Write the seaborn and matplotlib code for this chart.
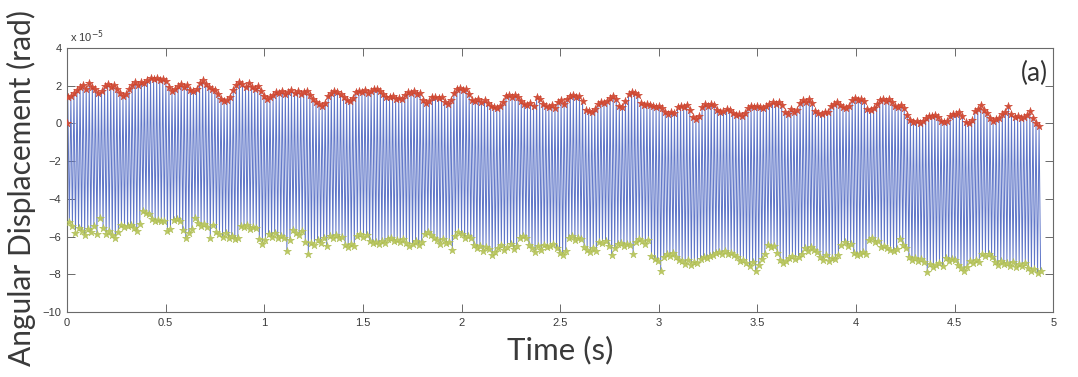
import numpy as np
import pandas as pd
import matplotlib
matplotlib.use("Agg")
import matplotlib.pyplot as plt
import seaborn as sns

# ---------------- data (units of 1e-5 rad) ----------------
duration = 4.94          # s, length of the recording
start_value = 0.0        # first sample at t = 0

peaks = [
    1.38, 1.45, 1.62, 1.75, 1.92, 2.05, 1.85, 2.12, 1.95, 1.80,
    1.62, 1.70, 1.98, 2.08, 1.92, 2.02, 1.85, 1.62, 1.48, 1.55,
    1.82, 2.05, 2.18, 2.02, 2.22, 2.12, 2.30, 2.40, 2.35, 2.42,
    2.32, 2.38, 2.25, 1.95, 1.72, 1.80, 1.98, 2.10, 1.92, 2.05,
    1.78, 1.72, 1.85, 2.15, 2.28, 2.10, 1.95, 1.82, 1.75, 1.55,
    1.28, 1.18, 1.22, 1.40, 1.75, 2.05, 2.20, 2.10, 1.95, 2.15,
    1.92, 1.85, 1.98, 1.70, 1.45, 1.32, 1.38, 1.52, 1.68, 1.60,
    1.72, 1.58, 1.65, 1.75, 1.62, 1.70, 1.55, 1.68, 1.74, 1.50,
    1.30, 1.15, 1.02, 0.92, 1.10, 1.45, 1.62, 1.72, 1.68, 1.58,
    1.40, 1.22, 1.18, 1.35, 1.65, 1.72, 1.68, 1.75, 1.62, 1.70,
    1.82, 1.85, 1.72, 1.55, 1.42, 1.38, 1.45, 1.30, 1.35, 1.28,
    1.52, 1.68, 1.62, 1.70, 1.55, 1.62, 1.25, 1.10, 1.18, 1.40,
    1.42, 1.35, 1.38, 1.15, 1.05, 1.22, 1.60, 1.82, 1.90, 1.75,
    1.85, 1.55, 1.25, 1.18, 1.30, 1.12, 1.22, 1.08, 0.95, 0.85,
    0.82, 0.92, 1.15, 1.45, 1.52, 1.40, 1.50, 1.42, 1.20, 1.02,
    0.98, 1.08, 0.95, 1.42, 1.30, 1.05, 0.92, 0.85, 0.98, 0.82,
    1.15, 1.22, 1.05, 1.30, 1.45, 1.52, 1.38, 1.48, 1.20, 0.70,
    0.65, 0.60, 0.75, 1.02, 1.15, 1.08, 1.20, 1.35, 1.45, 1.30,
    0.92, 0.88, 1.20, 1.55, 1.68, 1.60, 1.50, 1.10, 0.98, 1.05,
    1.00, 0.92, 0.85, 0.95, 0.80, 0.58, 0.52, 0.60, 0.55, 0.85,
    0.95, 0.88, 1.00, 0.70, 0.35, 0.22, 0.40, 0.85, 1.02, 0.95,
    1.05, 0.98, 0.70, 0.62, 0.68, 0.78, 0.72, 0.55, 0.45, 0.50,
    0.42, 0.55, 0.82, 0.90, 0.85, 0.95, 0.88, 0.80, 0.92, 1.05,
    1.12, 1.05, 1.15, 0.98, 0.62, 0.52, 0.75, 0.60, 0.70, 1.10,
    1.22, 1.15, 1.28, 1.10, 0.65, 0.55, 0.50, 0.62, 0.58, 0.95,
    1.05, 1.12, 1.00, 0.88, 0.82, 0.90, 1.22, 1.35, 1.25, 1.30,
    1.18, 0.78, 0.72, 0.80, 1.05, 1.25, 1.30, 1.20, 1.28, 1.15,
    0.95, 0.88, 1.00, 0.82, 0.45, 0.18, 0.05, 0.12, 0.02, 0.15,
    0.30, 0.42, 0.38, 0.45, 0.32, 0.12, 0.08, 0.15, 0.40, 0.52,
    0.48, 0.58, 0.42, 0.10, 0.02, 0.18, 0.65, 0.78, 0.98, 0.70,
    0.55, 0.28, 0.15, 0.22, 0.30, 0.52, 0.60, 0.92, 0.48, 0.35,
    0.42, 0.28, 0.35, 0.45, 0.65, 0.30, 0.02, -0.12,
]

troughs = [
    -5.25, -5.45, -5.80, -5.55, -5.70, -5.90, -5.60, -5.75, -5.45, -5.85,
    -5.00, -5.55, -5.85, -5.70, -5.90, -6.05, -5.75, -5.40, -5.50, -5.45,
    -5.40, -5.55, -5.72, -5.35, -4.62, -4.75, -4.80, -5.05, -5.15, -5.10,
    -5.20, -5.15, -5.70, -5.60, -5.10, -5.05, -5.15, -5.65, -6.10, -5.80,
    -5.60, -5.02, -5.30, -5.45, -5.35, -5.50, -6.05, -5.40, -5.75, -5.85,
    -6.00, -5.80, -6.10, -5.95, -6.15, -6.05, -5.45, -5.50, -5.40, -5.60,
    -5.50, -5.55, -6.15, -6.40, -6.20, -5.85, -6.00, -5.80, -6.05, -5.95,
    -6.10, -6.75, -6.20, -5.65, -5.80, -5.90, -5.70, -6.30, -6.90, -6.35,
    -6.45, -6.20, -6.35, -6.10, -6.50, -5.95, -6.05, -5.90, -6.10, -6.00,
    -6.45, -6.55, -6.40, -6.50, -5.95, -5.85, -6.00, -5.90, -6.25, -6.35,
    -6.30, -6.40, -6.25, -6.35, -6.15, -6.10, -6.25, -6.20, -6.30, -6.15,
    -6.35, -6.50, -6.40, -6.25, -6.45, -6.30, -5.85, -5.75, -5.90, -6.10,
    -6.20, -6.40, -6.15, -6.35, -6.30, -6.70, -5.95, -5.75, -5.85, -6.05,
    -5.95, -6.10, -6.45, -6.60, -6.50, -6.75, -6.55, -6.65, -7.00, -6.80,
    -6.60, -6.45, -6.70, -6.55, -6.40, -6.65, -6.50, -6.05, -5.95, -6.10,
    -6.45, -6.60, -6.80, -6.50, -6.70, -6.45, -6.55, -6.50, -6.40, -6.60,
    -6.85, -7.00, -6.75, -6.10, -5.95, -6.20, -6.05, -6.15, -6.55, -6.70,
    -6.80, -6.60, -6.75, -6.30, -6.35, -6.25, -6.50, -7.00, -6.60, -6.40,
    -6.35, -6.50, -6.40, -6.45, -6.95, -6.30, -6.15, -6.25, -6.40, -6.20,
    -7.05, -7.20, -7.30, -7.80, -7.10, -6.90, -7.05, -6.85, -7.10, -7.25,
    -7.30, -7.45, -7.25, -7.50, -7.35, -7.40, -7.20, -7.10, -7.15, -7.05,
    -7.00, -6.85, -6.80, -6.90, -6.75, -6.95, -6.85, -7.00, -7.10, -7.30,
    -7.25, -7.40, -7.55, -7.35, -7.85, -7.50, -7.20, -6.90, -6.45, -6.55,
    -6.50, -6.85, -7.25, -7.40, -7.30, -7.15, -7.05, -7.20, -7.10, -6.90,
    -6.60, -6.75, -6.55, -6.70, -6.80, -7.10, -7.25, -7.00, -7.30, -7.15,
    -7.20, -7.00, -6.45, -6.30, -6.50, -6.40, -6.85, -7.00, -6.90, -6.80,
    -6.95, -6.20, -6.10, -6.30, -6.25, -6.55, -6.50, -6.60, -6.70, -6.75,
    -6.65, -6.15, -6.45, -6.60, -7.10, -7.25, -7.15, -7.30, -7.20, -7.35,
    -7.90, -7.45, -7.60, -7.50, -7.40, -7.55, -7.15, -7.30, -7.20, -7.25,
    -7.50, -7.65, -7.85, -7.60, -7.30, -7.40, -7.25, -7.35, -6.95, -7.05,
    -6.90, -7.10, -7.35, -7.50, -7.30, -7.45, -7.40, -7.55, -7.35, -7.60,
    -7.45, -7.55, -7.40, -7.65, -7.80, -7.70, -7.95, -7.85,
]

x_ticks = [0, 0.5, 1, 1.5, 2, 2.5, 3, 3.5, 4, 4.5, 5]
y_ticks = [4, 2, 0, -2, -4, -6, -8, -10]
x_label = "Time (s)"
y_label = "Angular Displacement (rad)"
panel_tag = "(a)"

# ---------------- build tables ----------------
n = min(len(peaks), len(troughs))
period = duration / n
k = np.arange(n)
t_peak = (k + 0.25) * period
t_trough = (k + 0.75) * period

sig_t = np.concatenate([[0.0], np.column_stack([t_peak, t_trough]).ravel()])
sig_y = np.concatenate([[start_value],
                        np.column_stack([peaks[:n], troughs[:n]]).ravel()])
signal = pd.DataFrame({"time": sig_t, "disp": sig_y})
peak_df = pd.DataFrame({"time": np.concatenate([[0.0], t_peak]),
                        "disp": np.concatenate([[start_value], peaks[:n]])})
trough_df = pd.DataFrame({"time": t_trough, "disp": troughs[:n]})

# ---------------- plot ----------------
sns.set_style("white")
plt.rcParams["font.family"] = ["Liberation Sans", "DejaVu Sans"]

fig = plt.figure(figsize=(10.78, 3.77), dpi=100)
ax = fig.add_axes([0.0622, 0.1724, 0.977 - 0.0622, 0.8727 - 0.1724])

sns.lineplot(data=signal, x="time", y="disp", sort=False, estimator=None,
             color="#5f76c8", linewidth=0.7, ax=ax)
sns.scatterplot(data=peak_df, x="time", y="disp", marker="*", s=36,
                color="#d4503a", edgecolor="#c8402c", linewidth=0.3, ax=ax,
                zorder=3)
sns.scatterplot(data=trough_df, x="time", y="disp", marker="*", s=36,
                color="#bcc863", edgecolor="#aabb50", linewidth=0.3, ax=ax,
                zorder=3)

ax.set_xlim(0, 5)
ax.set_ylim(-10, 4)
ax.set_xticks(x_ticks)
ax.set_xticklabels([f"{v:g}" for v in x_ticks])
ax.set_yticks(y_ticks)
ax.set_yticklabels([f"{v:g}".replace("-", "\u2212") for v in y_ticks])

for s in ax.spines.values():
    s.set_visible(True)
    s.set_color("#6a6a6a")
    s.set_linewidth(0.8)
ax.tick_params(direction="in", length=6, width=0.7, colors="#6a6a6a",
               labelcolor="#3a3a3a", labelsize=8, top=True, right=True,
               bottom=True, left=True, pad=4)

lab_font = ["Lato", "DejaVu Sans"]
ax.set_xlabel(x_label, fontsize=22.5, color="#3a3a3a", family=lab_font,
              labelpad=6)
ax.set_ylabel(y_label, fontsize=21.5, color="#3a3a3a", family=lab_font)
ax.yaxis.set_label_coords(-0.031, 0.468)
ax.text(0.003, 1.012, r"x 10$^{-5}$", transform=ax.transAxes, fontsize=8,
        color="#3a3a3a", ha="left", va="bottom")
ax.text(0.995, 0.905, panel_tag, transform=ax.transAxes, fontsize=19,
        color="#333333", family=lab_font, ha="right", va="center")

fig.savefig("out.png", dpi=100, facecolor="white")
